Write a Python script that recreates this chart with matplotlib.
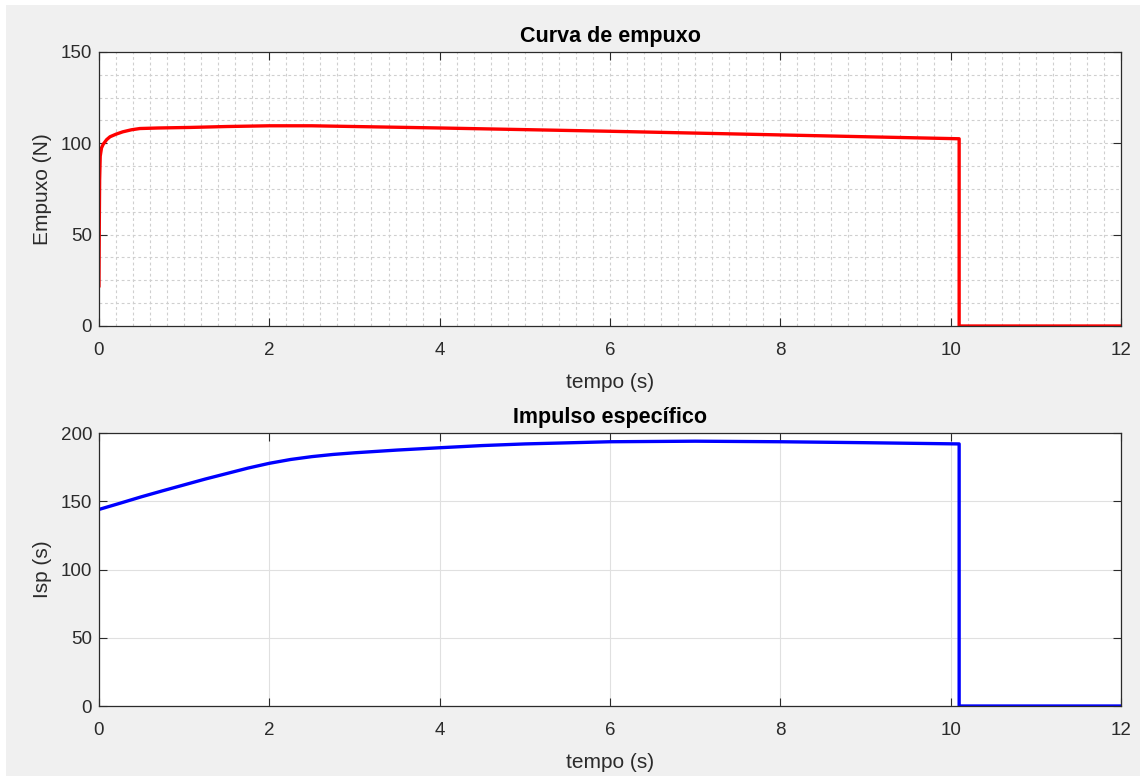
import numpy as np
import matplotlib
matplotlib.use("Agg")
import matplotlib.pyplot as plt
from matplotlib.patches import Rectangle

# Curva de empuxo (N) vs tempo (s)
t_thrust = [0.0, 0.004, 0.008, 0.015, 0.03, 0.05, 0.09, 0.13, 0.2, 0.28, 0.38, 0.48,
            0.7, 1.07, 1.5, 2.0, 2.5, 3.0, 4.0, 5.0, 6.0, 7.0, 8.0, 9.0, 10.1, 10.1, 12.0]
thrust = [22, 55, 80, 93, 97.5, 99.5, 102, 103.6, 105, 106.3, 107.4, 108.1,
          108.4, 108.7, 109.2, 109.6, 109.6, 109.2, 108.4, 107.5, 106.6, 105.6, 104.6, 103.6, 102.5, 0, 0]

# Impulso especifico (s) vs tempo (s)
t_isp = [0.0, 0.25, 0.5, 0.75, 1.0, 1.25, 1.5, 1.75, 2.0, 2.25, 2.5, 2.75, 3.0, 3.5,
         4.0, 4.5, 5.0, 6.0, 7.0, 8.0, 9.0, 10.1, 10.1, 12.0]
isp = [144, 148.6, 153.3, 157.7, 162, 166.3, 170.3, 174.3, 177.8, 180.6, 182.7, 184.3, 185.5, 187.5,
       189.2, 190.8, 192, 193.6, 194, 193.6, 192.9, 192, 0, 0]

x_ticks = [0, 2, 4, 6, 8, 10, 12]

plt.rcParams["font.family"] = ["Liberation Sans", "DejaVu Sans"]
txt = "#2b2b2b"

fig = plt.figure(figsize=(11.4, 7.76), dpi=100)
fig.patch.set_facecolor("white")
fig.patches.append(Rectangle((6 / 1140, 0), 1, 1 - 5 / 776, transform=fig.transFigure,
                             facecolor="#f0f0f0", edgecolor="none", zorder=-10))

ax1 = fig.add_axes([0.0868, 0.5799, 0.8965, 0.3531])
ax2 = fig.add_axes([0.0868, 0.0902, 0.8965, 0.3518])

for ax in (ax1, ax2):
    ax.set_facecolor("white")
    ax.set_xlim(0, 12)
    ax.set_xticks(x_ticks)
    ax.tick_params(direction="in", top=True, right=True, labelsize=13.5,
                   colors=txt, length=6, width=0.8)
    ax.tick_params(axis="x", pad=11.5)
    ax.tick_params(axis="y", pad=5)
    for s in ax.spines.values():
        s.set_color(txt)
        s.set_linewidth(0.9)
    ax.set_xlabel("tempo (s)", fontsize=15, color=txt, labelpad=10)

# top: minor dotted grid
ax1.plot(t_thrust, thrust, color="red", lw=2.4)
ax1.set_ylim(0, 150)
ax1.set_yticks([0, 50, 100, 150])
for xv in np.arange(0.2, 12, 0.2):
    ax1.axvline(xv, color="#cfcfcf", lw=0.8, ls=(0, (2.5, 2.5)), zorder=0)
for yv in np.arange(12.5, 150, 12.5):
    ax1.axhline(yv, color="#cfcfcf", lw=0.8, ls=(0, (2.5, 2.5)), zorder=0)
ax1.set_ylabel("Empuxo (N)", fontsize=15, color=txt, labelpad=6)
ax1.set_title("Curva de empuxo", fontsize=15.5, fontweight="bold", color="black", pad=7)

# bottom: major grid
ax2.plot(t_isp, isp, color="blue", lw=2.4)
ax2.set_ylim(0, 200)
ax2.set_yticks([0, 50, 100, 150, 200])
ax2.grid(True, color="#e0e0e0", lw=0.8, zorder=0)
ax2.set_axisbelow(True)
ax2.set_ylabel("Isp (s)", fontsize=15, color=txt, labelpad=6)
ax2.set_title("Impulso específico", fontsize=15.5, fontweight="bold", color="black", pad=7)

fig.savefig("out.png", dpi=100, facecolor=fig.get_facecolor())
